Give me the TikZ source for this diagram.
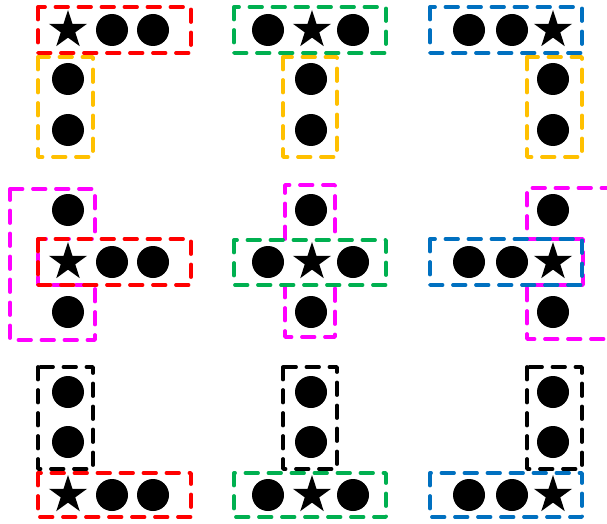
\documentclass[tikz,border=0pt]{standalone}
\usetikzlibrary{shapes.geometric}
\definecolor{cred}{RGB}{255,0,0}
\definecolor{cgreen}{RGB}{0,176,80}
\definecolor{cblue}{RGB}{0,112,192}
\definecolor{cgold}{RGB}{255,192,0}
\definecolor{cmag}{RGB}{255,0,255}
\begin{document}
\begin{tikzpicture}[x=1pt,y=-1pt,
  dot/.style={circle,fill=black,draw=none,minimum size=32pt,inner sep=0pt},
  starnode/.style={star,star points=5,star point ratio=2.618,fill=black,draw=none,minimum size=40pt,inner sep=0pt},
  dbox/.style={line width=3.8pt,line cap=round,line join=round,dash pattern=on 12.5pt off 10.5pt}
]
\useasboundingbox (0,0) rectangle (607,524);
\clip (0,0) rectangle (607,524);

% ---------- Row 1 ----------
% col 1
\draw[dbox,cgold] (38,57) rectangle (93,157);
\draw[dbox,cred] (38,7) rectangle (191,53);
\node[starnode] (a1s) at (68,30) {};
\node[dot] (a1b) at (112,30) {};
\node[dot] (a1c) at (153,30) {};
\node[dot] (a1d) at (68,79) {};
\node[dot] (a1e) at (68,130) {};
% col 2
\draw[dbox,cgold] (283,57) rectangle (337,157);
\draw[dbox,cgreen] (234,7) rectangle (386,53);
\node[dot] (b1a) at (268,30) {};
\node[starnode] (b1s) at (312,30) {};
\node[dot] (b1c) at (353,30) {};
\node[dot] (b1d) at (311,79) {};
\node[dot] (b1e) at (311,130) {};
% col 3
\draw[dbox,cgold] (527,57) rectangle (582,157);
\draw[dbox,cblue] (430,7) rectangle (582,53);
\node[dot] (c1a) at (469,30) {};
\node[dot] (c1b) at (512,30) {};
\node[starnode] (c1s) at (553,30) {};
\node[dot] (c1d) at (553,79) {};
\node[dot] (c1e) at (553,130) {};

% ---------- Row 2 ----------
% col 1
\draw[dbox,cmag] (10,189) -- (95,189) -- (95,239) -- (38,239) -- (38,285) -- (95,285) -- (95,340) -- (10,340) -- cycle;
\draw[dbox,cred] (38,239) rectangle (191,285);
\node[starnode] (a2s) at (68,262) {};
\node[dot] (a2b) at (112,262) {};
\node[dot] (a2c) at (153,262) {};
\node[dot] (a2d) at (68,210) {};
\node[dot] (a2e) at (68,312) {};
% col 2
\draw[dbox,cmag] (285,239) -- (285,185) -- (335,185) -- (335,239);
\draw[dbox,cmag] (285,285) -- (285,337) -- (335,337) -- (335,285);
\draw[dbox,cgreen] (234,240) rectangle (386,285);
\node[dot] (b2a) at (268,262) {};
\node[starnode] (b2s) at (312,262) {};
\node[dot] (b2c) at (353,262) {};
\node[dot] (b2d) at (311,210) {};
\node[dot] (b2e) at (311,312) {};
% col 3
\draw[dbox,cmag] (614,188) -- (527,188) -- (527,239) -- (583,239) -- (583,285) -- (527,285) -- (527,339) -- (614,339);
\draw[dbox,cblue] (430,239) rectangle (582,285);
\node[dot] (c2a) at (469,262) {};
\node[dot] (c2b) at (512,262) {};
\node[starnode] (c2s) at (553,262) {};
\node[dot] (c2d) at (553,210) {};
\node[dot] (c2e) at (553,312) {};

% ---------- Row 3 ----------
% col 1
\draw[dbox,black] (38,367) rectangle (93,469);
\draw[dbox,cred] (38,473) rectangle (191,517);
\node[dot] (a3d) at (68,392) {};
\node[dot] (a3e) at (68,442) {};
\node[starnode] (a3s) at (68,495) {};
\node[dot] (a3b) at (112,495) {};
\node[dot] (a3c) at (153,495) {};
% col 2
\draw[dbox,black] (283,367) rectangle (337,469);
\draw[dbox,cgreen] (234,473) rectangle (386,517);
\node[dot] (b3d) at (311,392) {};
\node[dot] (b3e) at (311,442) {};
\node[dot] (b3a) at (268,495) {};
\node[starnode] (b3s) at (312,495) {};
\node[dot] (b3c) at (353,495) {};
% col 3
\draw[dbox,black] (527,367) rectangle (582,469);
\draw[dbox,cblue] (430,473) rectangle (582,517);
\node[dot] (c3d) at (553,392) {};
\node[dot] (c3e) at (553,442) {};
\node[dot] (c3a) at (469,495) {};
\node[dot] (c3b) at (512,495) {};
\node[starnode] (c3s) at (553,495) {};
\end{tikzpicture}
\end{document}
